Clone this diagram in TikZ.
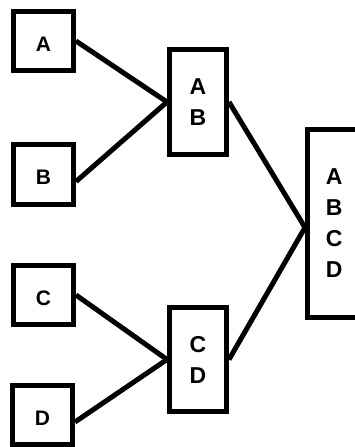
\documentclass[tikz,border=0pt]{standalone}
\usepackage{fontspec}
\setmainfont{Liberation Sans}
\begin{document}
\begin{tikzpicture}[x=1pt,y=-1pt,
  box/.style={draw=black,line width=5pt,fill=white,inner sep=0pt,align=center,
    font=\fontsize{21}{31}\selectfont\bfseries},
  single/.style={box,text height=20pt,text depth=0pt},
  bigbox/.style={box,font=\fontsize{23}{31}\selectfont\bfseries},
  link/.style={line width=5pt,line cap=butt}]
\useasboundingbox (0,0) rectangle (355,447);
\clip (0,0) rectangle (355,447);
\node[single,minimum width=60pt,minimum height=59pt] (A) at (43.5,41) {A};
\node[single,minimum width=60pt,minimum height=60pt] (B) at (43.5,174.5) {B};
\node[single,minimum width=60pt,minimum height=59pt] (C) at (43.5,295) {C};
\node[single,minimum width=60pt,minimum height=59pt] (D) at (42.5,415) {D};
\node[bigbox,minimum width=57pt,minimum height=105pt] (AB) at (198,102) {A\\B};
\node[bigbox,minimum width=57pt,minimum height=104pt] (CD) at (198,359.5) {C\\D};
\node[bigbox,minimum width=53.5pt,minimum height=188pt] (ABCD) at (334.25,223.5) {A\\B\\C\\D};
\draw[link] (A.east) -- (AB.west);
\draw[link] ([yshift=-7pt]B.east) -- (AB.west);
\draw[link] (C.east) -- (CD.west);
\draw[link] ([yshift=-7pt]D.east) -- (CD.west);
\draw[link] (AB.east) -- ([yshift=-4pt]ABCD.west);
\draw[link] (CD.east) -- ([yshift=-4pt]ABCD.west);
\end{tikzpicture}
\end{document}
